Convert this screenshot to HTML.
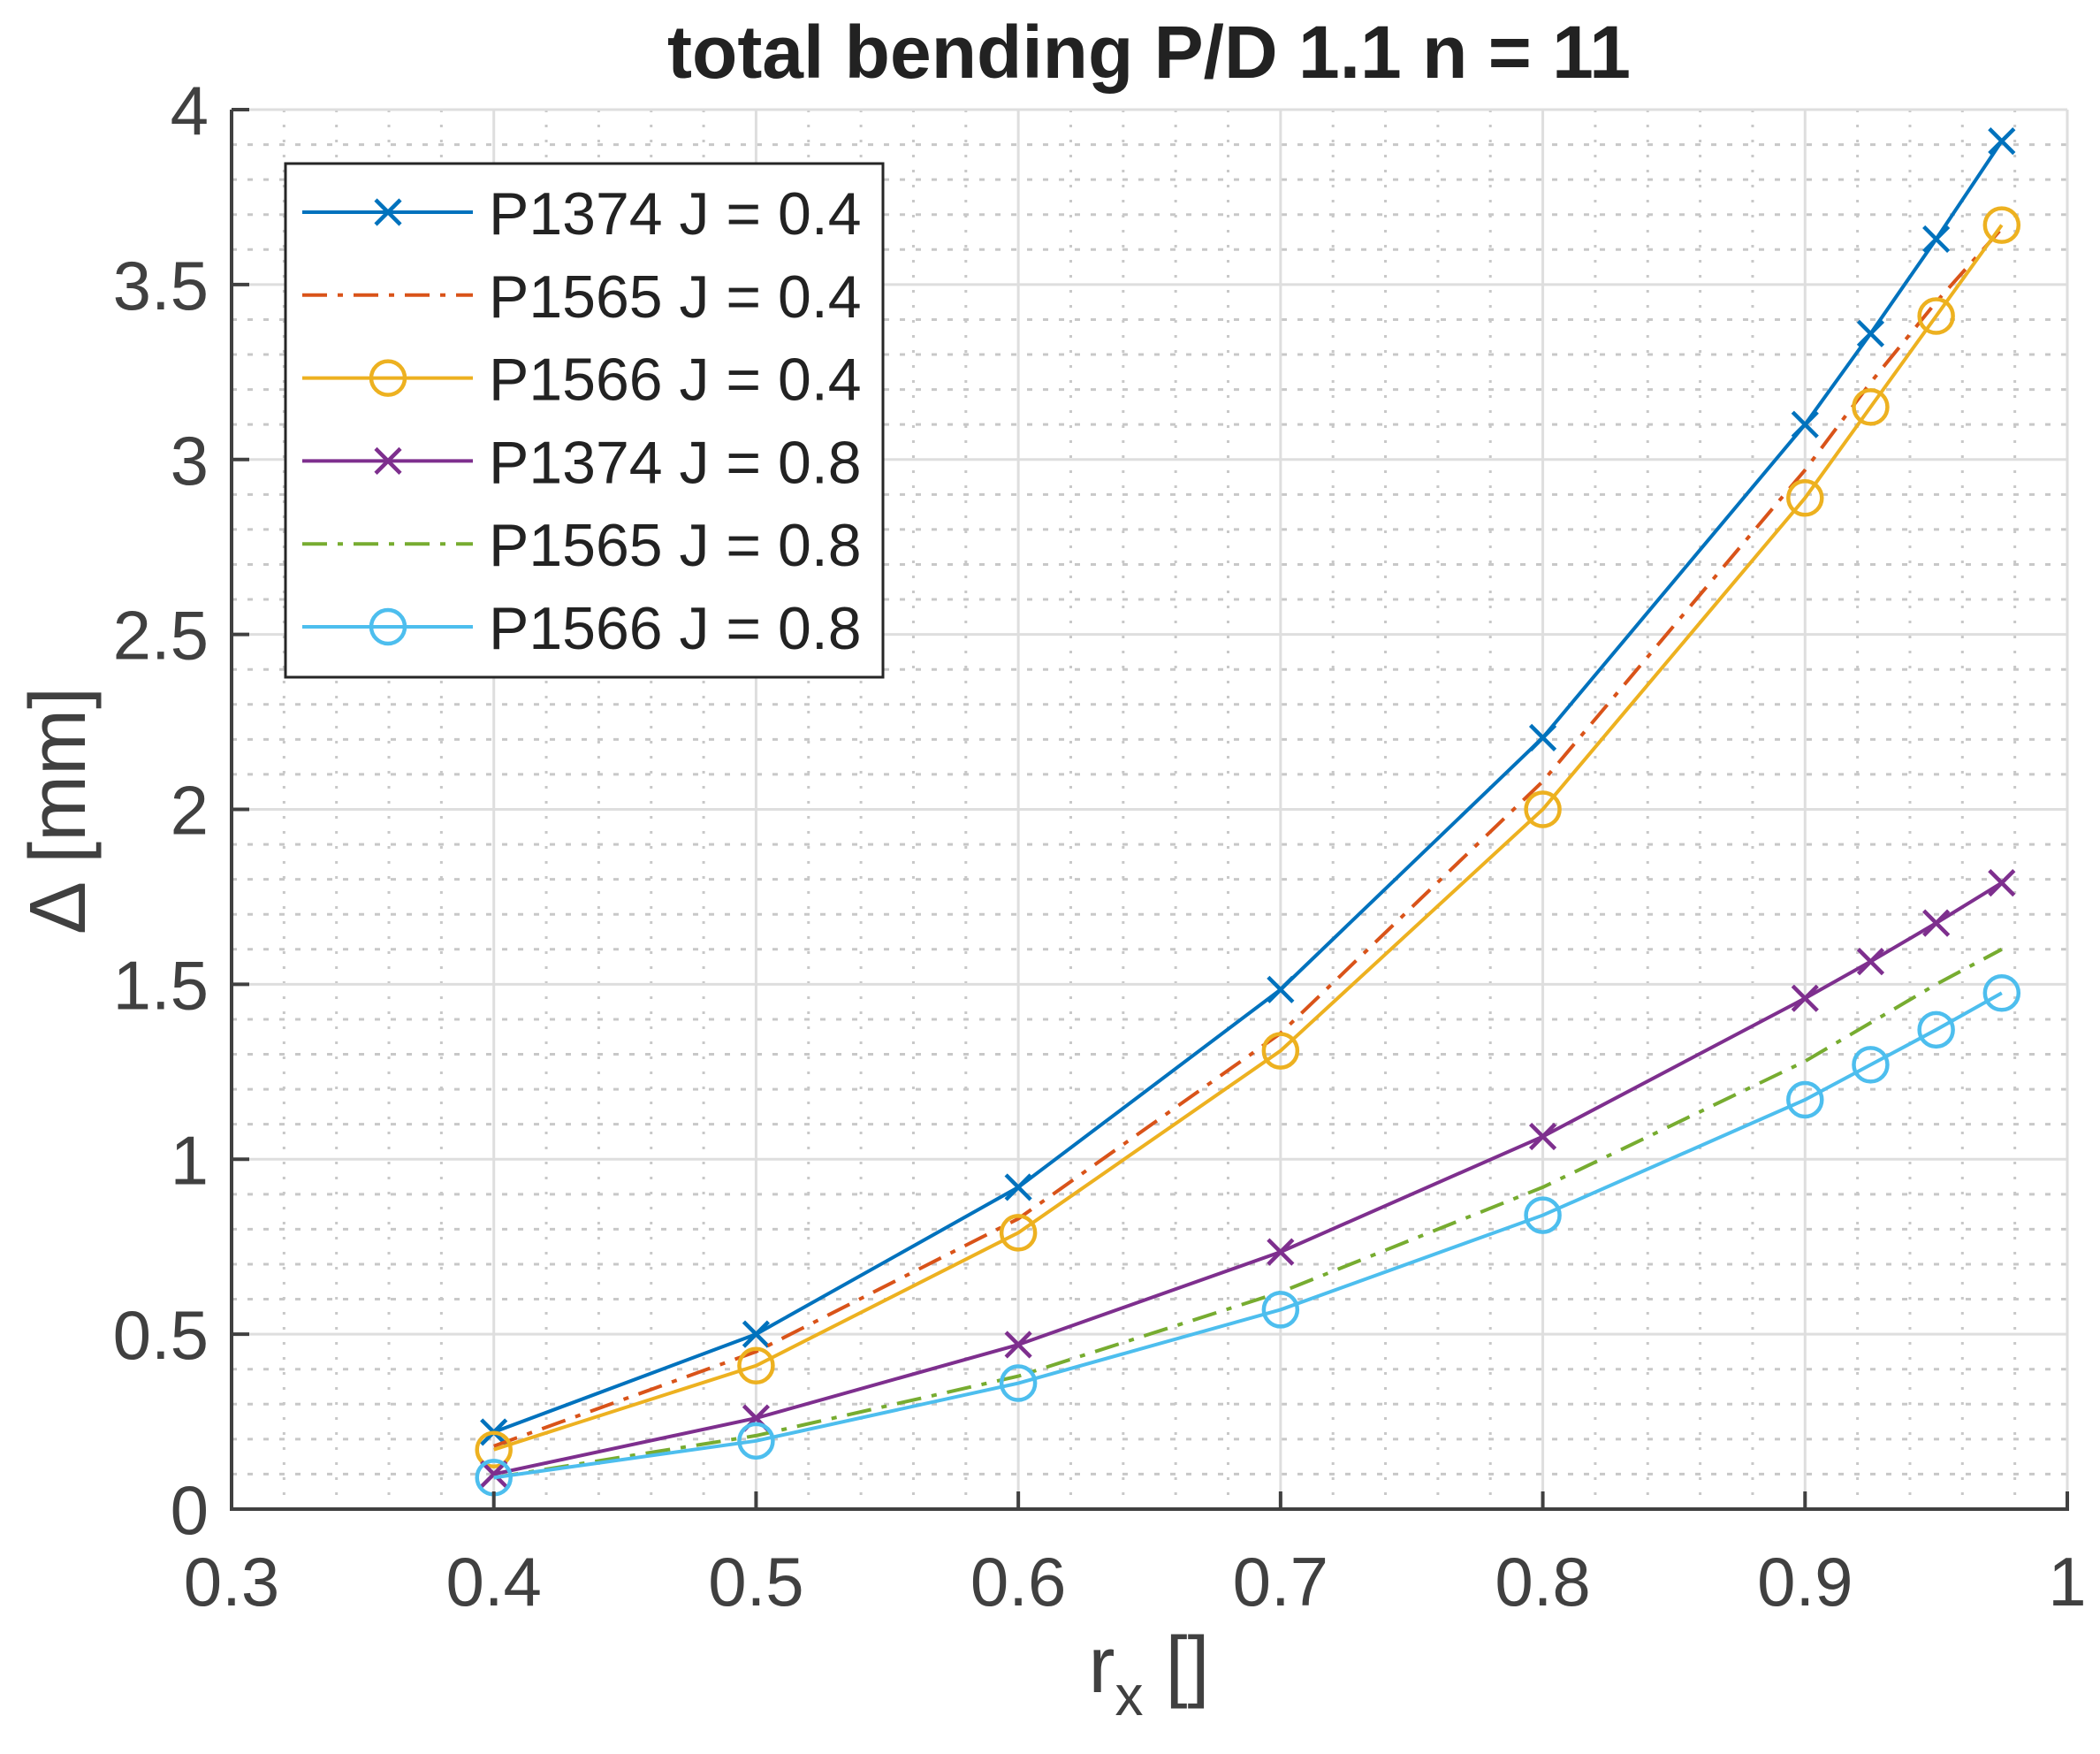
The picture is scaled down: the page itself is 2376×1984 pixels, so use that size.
<!DOCTYPE html>
<html><head><meta charset="utf-8"><style>
html,body{margin:0;padding:0;background:#fff;}
svg{display:block;font-family:"Liberation Sans",Arial,sans-serif;}
</style></head><body>
<svg id="chart" width="2376" height="1984" viewBox="0 0 2376 1984">
<rect width="2376" height="1984" fill="#fff"/>
<g id="grid"></g>
<g id="series"></g>
<g id="axes"></g>
<text x="1300" y="88" text-anchor="middle" font-size="84" font-weight="bold" fill="#222">total bending P/D 1.1 n = 11</text>
<text x="1300" y="1914" text-anchor="middle" font-size="90" fill="#404040">r<tspan font-size="64" dy="26">x</tspan><tspan dy="-26"> []</tspan></text>
<text transform="translate(96,917) rotate(-90)" text-anchor="middle" font-size="90" fill="#404040">Δ [mm]</text>
<g id="legend"></g>
</svg>
<script>
const xValues = [0.4,0.5,0.6,0.7,0.8,0.9,0.925,0.95,0.975];
const seriesNames = ["P1374 J = 0.4","P1565 J = 0.4","P1566 J = 0.4","P1374 J = 0.8","P1565 J = 0.8","P1566 J = 0.8"];
const p1374J04 = [0.22,0.50,0.92,1.485,2.205,3.10,3.36,3.63,3.91];
const p1565J04 = [0.18,0.45,0.83,1.36,2.08,2.97,3.22,3.45,3.66];
const p1566J04 = [0.17,0.41,0.79,1.31,2.00,2.89,3.15,3.41,3.67];
const p1374J08 = [0.10,0.26,0.47,0.735,1.065,1.46,1.565,1.675,1.79];
const p1565J08 = [0.09,0.21,0.38,0.62,0.92,1.28,1.39,1.50,1.60];
const p1566J08 = [0.09,0.195,0.36,0.57,0.84,1.17,1.27,1.37,1.475];
const xTicks = [0.3,0.4,0.5,0.6,0.7,0.8,0.9,1];
const xTickLabels = ["0.3","0.4","0.5","0.6","0.7","0.8","0.9","1"];
const yTicks = [0,0.5,1,1.5,2,2.5,3,3.5,4];
const yTickLabels = ["0","0.5","1","1.5","2","2.5","3","3.5","4"];

const NS="http://www.w3.org/2000/svg";
const L=262,R=2339,T=124,B=1707;
const xs=v=>L+(v-0.3)/0.7*(R-L);
const ys=v=>B-v/4*(B-T);
function mk(tag,attrs,parent){const e=document.createElementNS(NS,tag);for(const k in attrs)e.setAttribute(k,attrs[k]);parent.appendChild(e);return e;}
const grid=document.getElementById('grid'),axes=document.getElementById('axes'),sg=document.getElementById('series'),lg=document.getElementById('legend');

for(let i=0;i<=35;i++){const v=0.3+i*0.02;if(i%5===0)continue;
 const e=mk('line',{x1:xs(v),x2:xs(v),y1:T,y2:B,stroke:'#c8c8c8','stroke-width':3,'stroke-dasharray':'3 14'},grid);
 }
for(let i=0;i<=40;i++){const v=i*0.1;if(i%5===0)continue;
 const e=mk('line',{x1:L,x2:R,y1:ys(v),y2:ys(v),stroke:'#c8c8c8','stroke-width':3,'stroke-dasharray':'6 12'},grid);
 }
xTicks.forEach((v,i)=>{
 const g=mk('line',{x1:xs(v),x2:xs(v),y1:T,y2:B,stroke:'#dedede','stroke-width':3},grid);
 
 const t=mk('line',{x1:xs(v),x2:xs(v),y1:B,y2:B-20,stroke:'#404040','stroke-width':4},axes);
 
 const lb=mk('text',{x:xs(v),y:1816,'text-anchor':'middle','font-size':78,fill:'#404040'},axes);lb.textContent=xTickLabels[i];
 
});
yTicks.forEach((v,i)=>{
 const g=mk('line',{x1:L,x2:R,y1:ys(v),y2:ys(v),stroke:'#dedede','stroke-width':3},grid);
 
 const t=mk('line',{x1:L,x2:L+20,y1:ys(v),y2:ys(v),stroke:'#404040','stroke-width':4},axes);
 
 const lb=mk('text',{x:236,y:ys(v)+28,'text-anchor':'end','font-size':78,fill:'#404040'},axes);lb.textContent=yTickLabels[i];
 
});
const ax=mk('path',{d:`M${L},${T} L${L},${B} L${R},${B} L${R},${B-20}`,fill:'none',stroke:'#404040','stroke-width':4},axes);


const series=[
 {d:p1374J04,c:'#0072BD',dash:null,m:'x'},
 {d:p1565J04,c:'#D95319',dash:'28 12 6 12',m:null},
 {d:p1566J04,c:'#EDB120',dash:null,m:'o'},
 {d:p1374J08,c:'#7E2F8E',dash:null,m:'x'},
 {d:p1565J08,c:'#77AC30',dash:'28 12 6 12',m:null},
 {d:p1566J08,c:'#4DBEEE',dash:null,m:'o'}];
function marker(type,x,y,c,parent){
 if(type==='x'){const h=14;
  const e=mk('path',{d:`M${x-h},${y-h}L${x+h},${y+h}M${x-h},${y+h}L${x+h},${y-h}`,stroke:c,'stroke-width':4.5,fill:'none'},parent);
  }
 else if(type==='o'){const e=mk('circle',{cx:x,cy:y,r:19,stroke:c,'stroke-width':4.5,fill:'none'},parent);
  }
}
series.forEach((s,k)=>{
 const g=mk('g',{},sg);
 
 
 const pts=xValues.map((x,i)=>xs(x)+','+ys(s.d[i])).join(' ');
 const a={points:pts,fill:'none',stroke:s.c,'stroke-width':4};if(s.dash)a['stroke-dasharray']=s.dash;
 const pl=mk('polyline',a,g);
 if(s.m)xValues.forEach((x,i)=>marker(s.m,xs(x),ys(s.d[i]),s.c,g));
 const ly=240+k*93.8;
 const a2={x1:342,x2:535,y1:ly,y2:ly,stroke:s.c,'stroke-width':4};if(s.dash)a2['stroke-dasharray']=s.dash;
 const ll=mk('line',a2,lg);
 if(s.m)marker(s.m,439,ly,s.c,lg);
 const tx=mk('text',{x:553,y:ly+25,'font-size':68,fill:'#222'},lg);tx.textContent=seriesNames[k];
 
});
const box=mk('rect',{x:323,y:185,width:676,height:581,fill:'none',stroke:'#262626','stroke-width':3},lg);

const bg=mk('rect',{x:323,y:185,width:676,height:581,fill:'#fff'},lg);
lg.insertBefore(bg,lg.firstChild);

</script>
</body></html>
